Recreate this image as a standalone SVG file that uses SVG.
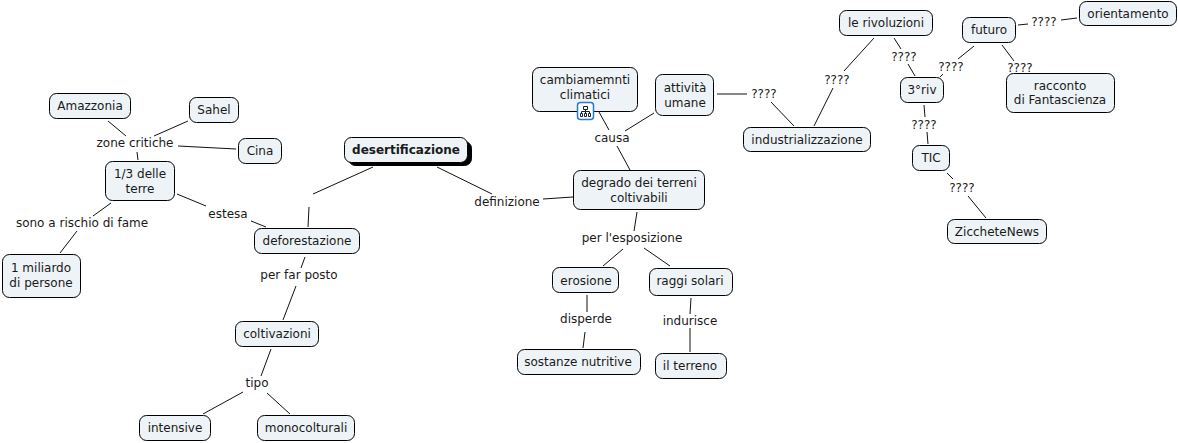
<svg xmlns="http://www.w3.org/2000/svg" width="1178" height="443" viewBox="0 0 1178 443">
<style>
text{font-family:"DejaVu Sans","Liberation Sans",sans-serif;font-size:12px;fill:#1a1a1a;text-anchor:middle}
.n rect{fill:#edf3f6;stroke:#000;stroke-width:1}
#connectors line{stroke:#111;stroke-width:1;fill:none}
</style>
<rect width="1178" height="443" fill="#fff"/>
<g id="connectors">
<line x1="373" y1="167" x2="313" y2="194"/><line x1="309" y1="207" x2="308" y2="227"/>
<line x1="437" y1="167" x2="492" y2="194"/><line x1="543" y1="199" x2="573" y2="197"/>
<line x1="599" y1="112" x2="609" y2="130"/><line x1="654" y1="113" x2="625" y2="131"/>
<line x1="617" y1="146" x2="630" y2="170"/>
<line x1="717" y1="94" x2="747" y2="94"/><line x1="771" y1="102" x2="794" y2="126"/>
<line x1="874" y1="38" x2="844" y2="71"/><line x1="833" y1="88" x2="814" y2="126"/>
<line x1="894" y1="38" x2="901" y2="49"/><line x1="908" y1="64" x2="915" y2="76"/>
<line x1="1018" y1="25" x2="1028" y2="24"/><line x1="1061" y1="20" x2="1077" y2="18"/>
<line x1="974" y1="46" x2="958" y2="59"/><line x1="943" y1="74" x2="940" y2="77"/>
<line x1="1002" y1="45" x2="1014" y2="61"/>
<line x1="924" y1="105" x2="925" y2="117"/><line x1="927" y1="132" x2="928" y2="144"/>
<line x1="947" y1="173" x2="953" y2="179"/><line x1="968" y1="196" x2="986" y2="218"/>
<line x1="108" y1="121" x2="126" y2="136"/><line x1="188" y1="121" x2="154" y2="136"/><line x1="178" y1="146" x2="236" y2="149"/>
<line x1="137" y1="152" x2="138" y2="160"/>
<line x1="111" y1="203" x2="93" y2="216"/><line x1="77" y1="231" x2="60" y2="253"/>
<line x1="177" y1="194" x2="206" y2="206"/><line x1="251" y1="221" x2="266" y2="227"/>
<line x1="305" y1="257" x2="301" y2="268"/><line x1="296" y1="286" x2="283" y2="320"/>
<line x1="271" y1="349" x2="261" y2="376"/><line x1="243" y1="392" x2="203" y2="414"/><line x1="267" y1="393" x2="290" y2="414"/>
<line x1="637" y1="212" x2="634" y2="231"/><line x1="623" y1="249" x2="603" y2="266"/><line x1="644" y1="248" x2="670" y2="266"/>
<line x1="587" y1="295" x2="587" y2="312"/><line x1="585" y1="332" x2="583" y2="348"/>
<line x1="691" y1="298" x2="690" y2="314"/><line x1="690" y1="328" x2="690" y2="352"/>
</g>
<g id="desertificazione" class="n"><rect x="348.500" y="141.500" width="123" height="24" rx="7" style="fill:#000"/><rect x="344.500" y="137.500" width="123" height="25" rx="7"/><text x="406" y="154" style="font-weight:bold">desertificazione</text></g>
<g id="lbl-definizione"><text x="507" y="206">definizione</text></g>
<g id="degrado" class="n"><rect x="573.500" y="170.500" width="131" height="39" rx="7"/><text x="639" y="187">degrado dei terreni</text><text x="639" y="202">coltivabili</text></g>
<g id="cambiamenti" class="n"><rect x="532.500" y="67.500" width="105" height="44" rx="7"/><text x="585" y="84">cambiamemnti</text><text x="585" y="99">climatici</text></g>
<g id="icon"><rect x="577.500" y="102.500" width="16" height="17" rx="3" fill="#fff" stroke="#2a78d0" stroke-width="1.500"/><path d="M583.500 106.500h4v3h-4zM580.500 113.500h2v3h-2zM584.500 113.500h2v3h-2zM588.500 113.500h2v3h-2zM585.500 109.500v4M581.500 113.500v-2h8v2" fill="none" stroke="#123" stroke-width="1"/></g>
<g id="attivita" class="n"><rect x="655.500" y="74.500" width="58" height="41" rx="7"/><text x="685" y="92">attività</text><text x="685" y="107">umane</text></g>
<g id="lbl-causa"><text x="612" y="142">causa</text></g>
<g id="lbl-q1"><text x="764" y="98">????</text></g>
<g id="industrializzazione" class="n"><rect x="743.500" y="127.500" width="127" height="24" rx="7"/><text x="807" y="144">industrializzazione</text></g>
<g id="lbl-q2"><text x="837" y="84">????</text></g>
<g id="rivoluzioni" class="n"><rect x="839.500" y="10.500" width="93" height="25" rx="7"/><text x="886" y="27">le rivoluzioni</text></g>
<g id="lbl-q3"><text x="904" y="61">????</text></g>
<g id="riv" class="n"><rect x="900.500" y="77.500" width="43" height="25" rx="7"/><text x="922" y="94">3°riv</text></g>
<g id="lbl-q4"><text x="951" y="71">????</text></g>
<g id="futuro" class="n"><rect x="962.500" y="17.500" width="53" height="25" rx="7"/><text x="989" y="34">futuro</text></g>
<g id="lbl-q5"><text x="1044" y="26">????</text></g>
<g id="orientamento" class="n"><rect x="1079.500" y="1.500" width="97" height="24" rx="7"/><text x="1128" y="18">orientamento</text></g>
<g id="lbl-q6"><text x="1020" y="72">????</text></g>
<g id="racconto" class="n"><rect x="1006.500" y="73.500" width="108" height="39" rx="7"/><text x="1060" y="90">racconto</text><text x="1060" y="104">di Fantascienza</text></g>
<g id="lbl-q7"><text x="924" y="129">????</text></g>
<g id="tic" class="n"><rect x="912.500" y="145.500" width="37" height="25" rx="7"/><text x="931" y="162">TIC</text></g>
<g id="lbl-q8"><text x="962" y="192">????</text></g>
<g id="zicchete" class="n"><rect x="947.500" y="219.500" width="99" height="24" rx="7"/><text x="997" y="236">ZiccheteNews</text></g>
<g id="amazzonia" class="n"><rect x="49.500" y="93.500" width="81" height="25" rx="7"/><text x="90" y="110">Amazzonia</text></g>
<g id="sahel" class="n"><rect x="189.500" y="97.500" width="49" height="25" rx="7"/><text x="214" y="114">Sahel</text></g>
<g id="cina" class="n"><rect x="238.500" y="138.500" width="43" height="25" rx="7"/><text x="260" y="155">Cina</text></g>
<g id="lbl-zone"><text x="135" y="147">zone critiche</text></g>
<g id="terre" class="n"><rect x="105.500" y="161.500" width="69" height="39" rx="7"/><text x="140" y="178">1/3 delle</text><text x="140" y="193">terre</text></g>
<g id="lbl-fame"><text x="82" y="227">sono a rischio di fame</text></g>
<g id="miliardo" class="n"><rect x="2.500" y="254.500" width="78" height="43" rx="7"/><text x="41" y="272">1 miliardo</text><text x="41" y="287">di persone</text></g>
<g id="lbl-estesa"><text x="228" y="218">estesa</text></g>
<g id="deforestazione" class="n"><rect x="254.500" y="228.500" width="105" height="25" rx="7"/><text x="307" y="245">deforestazione</text></g>
<g id="lbl-posto"><text x="299" y="279">per far posto</text></g>
<g id="coltivazioni" class="n"><rect x="235.500" y="321.500" width="83" height="25" rx="7"/><text x="277" y="338">coltivazioni</text></g>
<g id="lbl-tipo"><text x="257" y="387">tipo</text></g>
<g id="intensive" class="n"><rect x="139.500" y="415.500" width="71" height="25" rx="7"/><text x="175" y="432">intensive</text></g>
<g id="monocolturali" class="n"><rect x="257.500" y="415.500" width="97" height="25" rx="7"/><text x="306" y="432">monocolturali</text></g>
<g id="lbl-esposizione"><text x="632" y="242">per l'esposizione</text></g>
<g id="erosione" class="n"><rect x="552.500" y="267.500" width="66" height="25" rx="7"/><text x="586" y="285">erosione</text></g>
<g id="raggi" class="n"><rect x="649.500" y="268.500" width="83" height="27" rx="7"/><text x="690" y="285">raggi solari</text></g>
<g id="lbl-disperde"><text x="586" y="323">disperde</text></g>
<g id="lbl-indurisce"><text x="690" y="325">indurisce</text></g>
<g id="sostanze" class="n"><rect x="517.500" y="349.500" width="123" height="25" rx="7"/><text x="578" y="366">sostanze nutritive</text></g>
<g id="terreno" class="n"><rect x="655.500" y="353.500" width="71" height="25" rx="7"/><text x="690" y="370">il terreno</text></g>
</svg>
